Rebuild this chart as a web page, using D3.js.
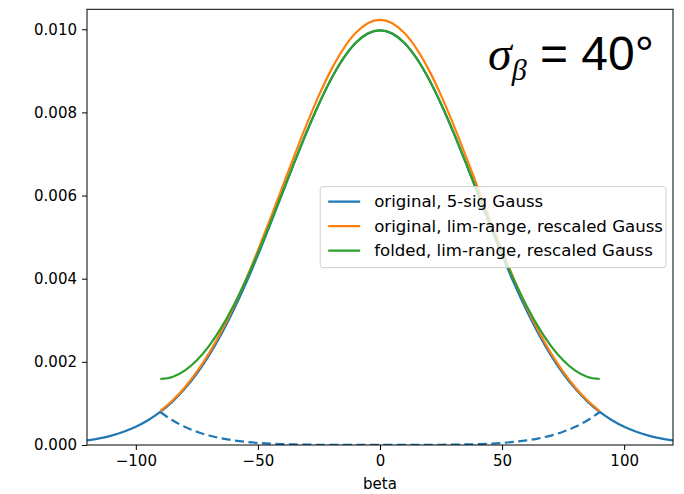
<!DOCTYPE html>
<html>
<head>
<meta charset="utf-8">
<script src="https://cdn.jsdelivr.net/npm/d3@7"></script>
<style>
  body { margin: 0; background: #fff; }
  svg { display: block; }
  .tick text { font-family: "DejaVu Sans", sans-serif; font-size: 15px; fill: #000; }
</style>
</head>
<body>
<div id="chart"></div>
<script>
// beta grid (deg) and curve values
const betaFull = [-120, -115, -110, -105, -100, -95, -90, -85, -80, -75, -70, -65, -60, -55, -50, -45, -40, -35, -30, -25, -20, -15, -10, -5,
  0, 5, 10, 15, 20, 25, 30, 35, 40, 45, 50, 55, 60, 65, 70, 75, 80, 85, 90, 95, 100, 105, 110, 115, 120];
const originalGauss = [0.000111, 0.000160, 0.000227, 0.000318, 0.000438, 0.000594, 0.000794, 0.001043, 0.001350, 0.001720, 0.002157, 0.002663,
  0.003238, 0.003875, 0.004566, 0.005297, 0.006049, 0.006802, 0.007529, 0.008204, 0.008802, 0.009297, 0.009667, 0.009896,
  0.009974, 0.009896, 0.009667, 0.009297, 0.008802, 0.008204, 0.007529, 0.006802, 0.006049, 0.005297, 0.004566, 0.003875,
  0.003238, 0.002663, 0.002157, 0.001720, 0.001350, 0.001043, 0.000794, 0.000594, 0.000438, 0.000318, 0.000227, 0.000160, 0.000111];

const betaLim = [-90, -85, -80, -75, -70, -65, -60, -55, -50, -45, -40, -35, -30, -25, -20, -15, -10, -5,
  0, 5, 10, 15, 20, 25, 30, 35, 40, 45, 50, 55, 60, 65, 70, 75, 80, 85, 90];
const tailsDashed = [0.000794, 0.000594, 0.000438, 0.000318, 0.000227, 0.000160, 0.000111, 0.0000756, 0.0000508, 0.0000335, 0.0000218,
  0.0000140, 0.0000088, 0.0000055, 0.0000033, 0.0000020, 0.0000012, 0.0000007, 0.0000008,
  0.0000007, 0.0000012, 0.0000020, 0.0000033, 0.0000055, 0.0000088, 0.0000140, 0.0000218, 0.0000335, 0.0000508,
  0.0000756, 0.000111, 0.000160, 0.000227, 0.000318, 0.000438, 0.000594, 0.000794];
const rescaledGauss = [0.000814, 0.001069, 0.001384, 0.001763, 0.002211, 0.002730, 0.003319, 0.003972, 0.004680, 0.005430, 0.006201,
  0.006972, 0.007718, 0.008410, 0.009023, 0.009530, 0.009909, 0.010144, 0.010224,
  0.010144, 0.009909, 0.009530, 0.009023, 0.008410, 0.007718, 0.006972, 0.006201, 0.005430, 0.004680,
  0.003972, 0.003319, 0.002730, 0.002211, 0.001763, 0.001384, 0.001069, 0.000814];
const foldedGauss = [0.001588, 0.001637, 0.001788, 0.002038, 0.002384, 0.002823, 0.003349, 0.003951, 0.004617, 0.005331, 0.006071,
  0.006816, 0.007538, 0.008210, 0.008805, 0.009299, 0.009668, 0.009897, 0.009975,
  0.009897, 0.009668, 0.009299, 0.008805, 0.008210, 0.007538, 0.006816, 0.006071, 0.005331, 0.004617,
  0.003951, 0.003349, 0.002823, 0.002384, 0.002038, 0.001788, 0.001637, 0.001588];

const xTicks = [-100, -50, 0, 50, 100];
const yTicks = [0, 0.002, 0.004, 0.006, 0.008, 0.010];
const legendLabels = ['original, 5-sig Gauss', 'original, lim-range, rescaled Gauss', 'folded, lim-range, rescaled Gauss'];
const COLORS = ['#1f77b4', '#ff7f0e', '#2ca02c'];

const width = 684;
const height = 494;
const margin = { top: 9.3, right: 11, bottom: 49, left: 87 };

const svg = d3.select('#chart')
  .append('svg')
  .attr('width', width)
  .attr('height', height);

const x = d3.scaleLinear()
  .domain([-120, 120])
  .range([margin.left, width - margin.right]);

const y = d3.scaleLinear()
  .domain([0, 0.01048])
  .range([height - margin.bottom, margin.top]);

svg.append('defs')
  .append('clipPath')
  .attr('id', 'plot-clip')
  .append('rect')
  .attr('x', margin.left)
  .attr('y', margin.top)
  .attr('width', width - margin.left - margin.right)
  .attr('height', height - margin.top - margin.bottom);

const line = d3.line()
  .x((d) => x(d[0]))
  .y((d) => y(d[1]))
  .curve(d3.curveMonotoneX);

const series = [
  { xs: betaFull, ys: originalGauss, color: COLORS[0], dash: null },
  { xs: betaLim, ys: tailsDashed, color: COLORS[0], dash: '9,4.5' },
  { xs: betaLim, ys: rescaledGauss, color: COLORS[1], dash: null },
  { xs: betaLim, ys: foldedGauss, color: COLORS[2], dash: null },
];

svg.append('g')
  .attr('clip-path', 'url(#plot-clip)')
  .selectAll('path')
  .data(series)
  .join('path')
  .attr('fill', 'none')
  .attr('stroke', (d) => d.color)
  .attr('stroke-width', 2.2)
  .attr('stroke-linecap', 'butt')
  .attr('stroke-dasharray', (d) => d.dash)
  .attr('d', (d) => line(d.xs.map((v, i) => [v, d.ys[i]])));

// axes
svg.append('g')
  .attr('transform', `translate(0,${height - margin.bottom})`)
  .call(d3.axisBottom(x).tickValues(xTicks).tickSize(5).tickPadding(5)
    .tickFormat((d) => (d < 0 ? `\u2212${Math.abs(d)}` : `${d}`)))
  .call((g) => g.select('.domain').remove())
  .call((g) => g.selectAll('.tick line').attr('stroke', '#000'));

svg.append('g')
  .attr('transform', `translate(${margin.left},0)`)
  .call(d3.axisLeft(y).tickValues(yTicks).tickSize(5).tickPadding(5).tickFormat(d3.format('.3f')))
  .call((g) => g.select('.domain').remove())
  .call((g) => g.selectAll('.tick line').attr('stroke', '#000'));

svg.append('rect')
  .attr('x', margin.left)
  .attr('y', margin.top)
  .attr('width', width - margin.left - margin.right)
  .attr('height', height - margin.top - margin.bottom)
  .attr('fill', 'none')
  .attr('stroke', '#000')
  .attr('stroke-width', 1);

svg.append('text')
  .attr('x', x(0))
  .attr('y', 489)
  .attr('text-anchor', 'middle')
  .style('font-family', '"DejaVu Sans", sans-serif')
  .style('font-size', '15px')
  .text('beta');

// legend
const fs = 16.6;
const gLegend = svg.append('g').attr('class', 'legend');
const box = gLegend.append('rect')
  .attr('fill', '#fff')
  .attr('fill-opacity', 0.8)
  .attr('stroke', '#d0d0d0')
  .attr('stroke-width', 1)
  .attr('rx', 3);

const texts = gLegend.selectAll('text')
  .data(legendLabels)
  .join('text')
  .style('font-family', '"DejaVu Sans", sans-serif')
  .style('font-size', `${fs}px`)
  .attr('dominant-baseline', 'central')
  .text((d) => d);

const textW = d3.max(texts.nodes(), (n) => n.getComputedTextLength());
const rowH = 24.5;
const boxW = textW + 57;
const boxH = 81;
const boxRight = width - margin.right - 7;
const boxLeft = boxRight - boxW;
const boxTop = (margin.top + height - margin.bottom) / 2 - boxH / 2;

box.attr('x', boxLeft).attr('y', boxTop).attr('width', boxW).attr('height', boxH);

const rowY = (i) => boxTop + 15 + i * rowH;

texts.attr('x', boxLeft + 54)
  .attr('y', (_, i) => rowY(i));

gLegend.selectAll('line')
  .data(legendLabels)
  .join('line')
  .attr('x1', boxLeft + 8)
  .attr('x2', boxLeft + 40)
  .attr('y1', (_, i) => rowY(i))
  .attr('y2', (_, i) => rowY(i))
  .attr('stroke', (_, i) => COLORS[i])
  .attr('stroke-width', 2.2);

// sigma annotation
const note = svg.append('text')
  .attr('x', 488)
  .attr('y', 70)
  .style('font-size', '48px');
note.append('tspan')
  .style('font-family', '"Liberation Serif", serif')
  .style('font-style', 'italic')
  .text('\u03c3');
note.append('tspan')
  .style('font-family', '"Liberation Serif", serif')
  .style('font-style', 'italic')
  .style('font-size', '30px')
  .attr('dy', 10)
  .text('\u03b2');
note.append('tspan')
  .style('font-family', '"Liberation Sans", Arial, sans-serif')
  .attr('dy', -10)
  .text(' = 40\u00b0');
</script>
</body>
</html>
